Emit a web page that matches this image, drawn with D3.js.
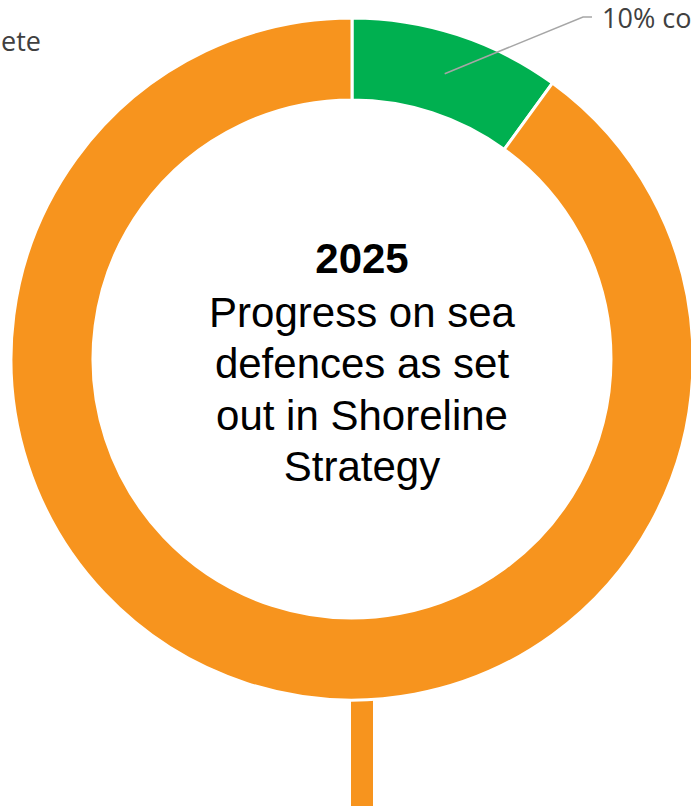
<!DOCTYPE html>
<html>
<head>
<meta charset="utf-8">
<script src="https://cdn.jsdelivr.net/npm/d3@7"></script>
<style>
  body { margin: 0; background: #fff; }
  svg { display: block; }
  .centre { font-family: "Liberation Sans", Arial, sans-serif; fill: #000; text-anchor: middle; }
  .label { font-family: "Open Sans", sans-serif; font-size: 27px; fill: #404040; }
</style>
</head>
<body>
<svg id="chart" width="691" height="806"></svg>
<script>
// slice data
const categories = ["complete", "incomplete"];
const values = [10, 90];
const labels = ["10% complete", "90% incomplete"];
const colours = ["#00B050", "#F7941E"];
const titleYear = "2025";
const titleLines = ["Progress on sea", "defences as set", "out in Shoreline", "Strategy"];

const svg = d3.select("#chart");
const cx = 352, cy = 359;
const outerR = 341, innerR = 259;

let g = svg.append("g").attr("transform", "translate(" + cx + "," + cy + ")");

// vertical bar under the ring
g.append("rect").attr("x", -1).attr("y", outerR - 4).attr("width", 22).attr("height", 120)
    .attr("fill", colours[1]);

let pie = d3.pie().sort(null).value(d => d);
let arcs = pie(values);
let arc = d3.arc().innerRadius(innerR).outerRadius(outerR);

g.selectAll("path.slice").data(arcs).join("path")
    .attr("class", "slice")
    .attr("d", arc)
    .attr("fill", (d, i) => colours[i])
    .attr("stroke", "#fff")
    .attr("stroke-width", 3);

// leader line for the green slice
let c = arc.centroid(arcs[0]);
let elbow = [231, -342];
g.append("polyline")
    .attr("points", [c, elbow, [elbow[0] + 9, elbow[1]]].map(p => p.join(",")).join(" "))
    .attr("fill", "none").attr("stroke", "#A6A6A6").attr("stroke-width", 1.5);
g.append("text").attr("class", "label").attr("x", elbow[0] + 19).attr("y", elbow[1] + 11)
    .text(labels[0]);

// label for the orange slice, sits top left
g.append("text").attr("class", "label").attr("text-anchor", "end")
    .attr("x", 41 - cx).attr("y", 51 - cy).text(labels[1]);

// centre text, a little right of the ring centre
let tx = 10;
g.append("text").attr("class", "centre").attr("x", tx).attr("y", 273 - cy)
    .attr("font-size", "42px").attr("font-weight", "bold").text(titleYear);
g.selectAll("text.line").data(titleLines).join("text")
    .attr("class", "centre line")
    .attr("font-size", "42px")
    .attr("x", tx)
    .attr("y", (d, i) => 327 - cy + i * 51.3)
    .text(d => d);
</script>
</body>
</html>
